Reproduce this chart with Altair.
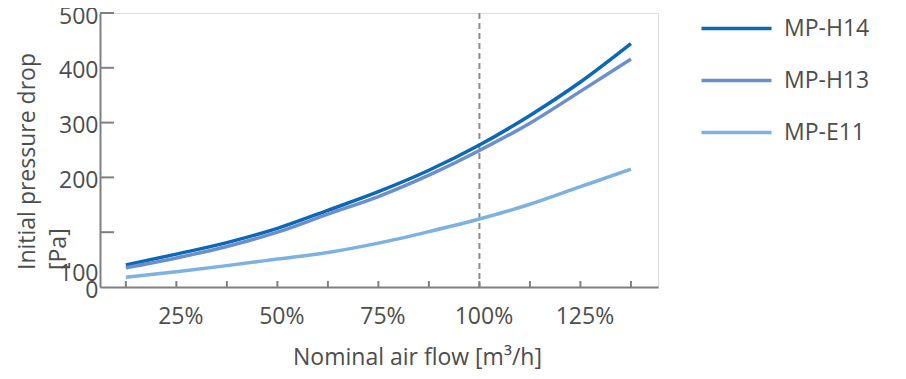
import altair as alt
import pandas as pd

flow_pct = [12.5, 25, 37.5, 50, 62.5, 75, 87.5, 100, 112.5, 125, 137.5]
mp_h14 = [40, 60, 81, 107, 140, 174, 213, 259, 313, 374, 444]
mp_h13 = [35, 53, 74, 100, 133, 165, 204, 249, 299, 357, 416]
mp_e11 = [18, 28, 39, 51, 63, 80, 101, 124, 151, 183, 215]
series_names = ["MP-H14", "MP-H13", "MP-E11"]
series_colors = ["#0a68b6", "#6b8fcd", "#7db1e0"]
x_label_values = [25, 50, 75, 100, 125]
y_tick_values = [100, 200, 300, 400, 500]
y_label_values = [0, 31, 200, 300, 400, 500]
y_title_lines = ["Initial pressure drop", "[Pa]"]

rows = []
for name, vals in zip(series_names, [mp_h14, mp_h13, mp_e11]):
    for x, v in zip(flow_pct, vals):
        rows.append({"flow": x, "dp": v, "series": name})
df = pd.DataFrame(rows)

FONT = "Open Sans"
TXT = "#4d4d4d"
AX = "#808080"
W, H = 558, 274

xscale = alt.Scale(domain=[6.1, 144.2], nice=False, zero=False)
yscale = alt.Scale(domain=[0, 500], nice=False)

lines = alt.Chart(df).mark_line(strokeWidth=3.5, strokeCap="butt",
                                interpolate="monotone").encode(
    x=alt.X("flow:Q", scale=xscale,
            axis=alt.Axis(values=x_label_values, labelExpr="datum.value + '%'",
                          ticks=False, tickSize=0, grid=False,
                          domainColor=AX, domainWidth=2,
                          labelFont=FONT, labelFontSize=23, labelColor=TXT,
                          labelBaseline="middle", labelPadding=29, labelOffset=4,
                          labelOverlap=False,
                          title="Nominal air flow [m³/h]", titleFont=FONT,
                          titleFontSize=23, titleFontWeight="normal", titleColor=TXT,
                          titleX=317, titleY=70, titleAlign="center",
                          titleBaseline="middle")),
    y=alt.Y("dp:Q", scale=yscale,
            axis=alt.Axis(values=y_label_values,
                          labelExpr="datum.value == 31 ? '100' : datum.label",
                          ticks=False, tickSize=0, grid=False,
                          domainColor=AX, domainWidth=2,
                          labelFont=FONT, labelFontSize=23, labelColor=TXT,
                          labelPadding=2, labelOverlap=False, labelFlush=False,
                          labelBaseline="middle", labelOffset=3, title=None)),
    color=alt.Color("series:N",
                    scale=alt.Scale(domain=series_names, range=series_colors),
                    sort=series_names,
                    legend=alt.Legend(orient="none", legendX=625, legendY=4,
                                      title=None, symbolType="M-5,0H5",
                                      symbolSize=196, symbolStrokeWidth=3.7,
                                      labelFont=FONT, labelFontSize=23,
                                      labelColor=TXT, labelOffset=36,
                                      rowPadding=28, padding=0)),
)

ref_df = pd.DataFrame({"flow": [100]})
ref_line = alt.Chart(ref_df).mark_rule(color="#8c8c8c", strokeWidth=2,
                                       strokeDash=[6, 4]).encode(
    x=alt.X("flow:Q", scale=xscale))

xt_df = pd.DataFrame({"flow": flow_pct})
x_ticks = alt.Chart(xt_df).mark_rule(color=AX, strokeWidth=2).encode(
    x=alt.X("flow:Q", scale=xscale),
    y=alt.value(H), y2=alt.value(H - 6))

yt_df = pd.DataFrame({"dp": y_tick_values})
y_ticks = alt.Chart(yt_df).mark_rule(color=AX, strokeWidth=2).encode(
    y=alt.Y("dp:Q", scale=yscale),
    x=alt.value(0), x2=alt.value(14))

title1 = alt.Chart(pd.DataFrame({"t": [y_title_lines[0]]})).mark_text(
    angle=270, align="left", baseline="middle", font=FONT, fontSize=23,
    color=TXT).encode(text="t:N", x=alt.value(-72), y=alt.value(257))
title2 = alt.Chart(pd.DataFrame({"t": [y_title_lines[1]]})).mark_text(
    angle=270, align="left", baseline="middle", font=FONT, fontSize=23,
    color=TXT).encode(text="t:N", x=alt.value(-41), y=alt.value(257))

chart = alt.layer(ref_line, x_ticks, y_ticks, lines, title1, title2).properties(
    width=W, height=H,
    autosize=alt.AutoSizeParams(type="none"),
    padding={"left": 92, "top": 5, "right": 240, "bottom": 84},
).configure_view(stroke=None).configure(background="white")

chart.save("out.html", embed_options={"renderer": "svg", "actions": False})
